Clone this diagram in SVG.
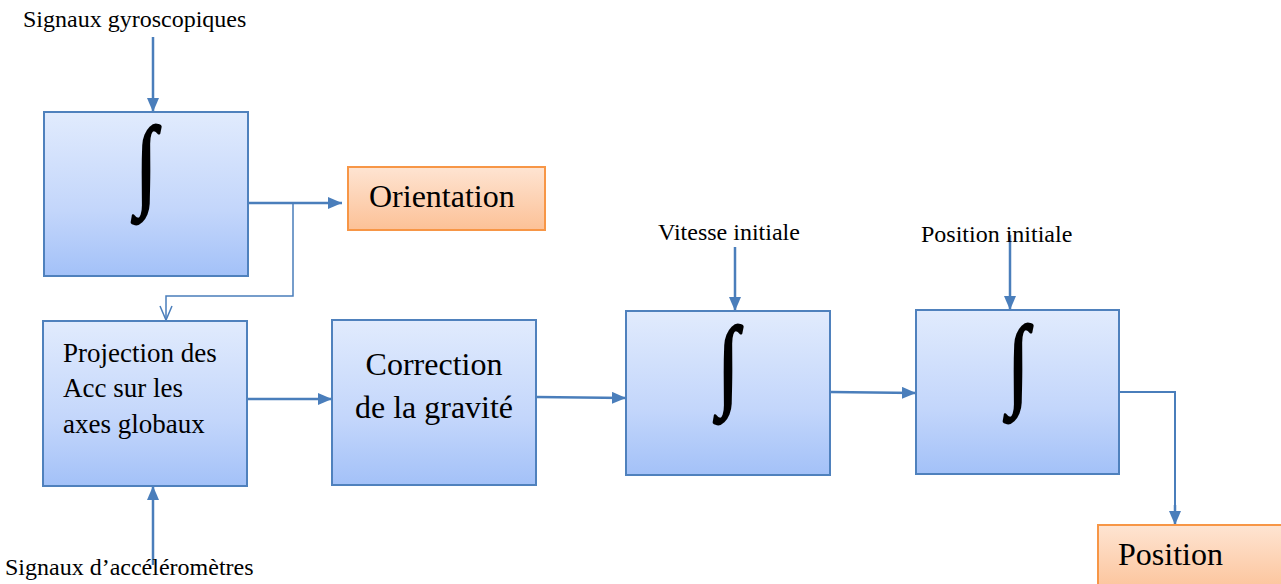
<svg xmlns="http://www.w3.org/2000/svg" width="1281" height="584" viewBox="0 0 1281 584">
<defs>
<linearGradient id="gBlue" x1="0" y1="0" x2="0" y2="1">
<stop offset="0" stop-color="#e1ebfd"/>
<stop offset="0.6" stop-color="#c3d6fb"/>
<stop offset="1" stop-color="#a3c1f8"/>
</linearGradient>
<linearGradient id="gOrange" x1="0" y1="0" x2="0" y2="1">
<stop offset="0" stop-color="#fee4d2"/>
<stop offset="1" stop-color="#fcc197"/>
</linearGradient>
<marker id="arr" viewBox="0 0 14 12" refX="14" refY="6" markerWidth="14" markerHeight="12" markerUnits="userSpaceOnUse" orient="auto">
<path d="M0,0 L14,6 L0,12 z" fill="#4a7ebb"/>
</marker>
</defs>
<style>
.box{fill:url(#gBlue);stroke:#4f81bd;stroke-width:2}
.obox{fill:url(#gOrange);stroke:#f79646;stroke-width:2}
.t{font-family:"Liberation Serif","Times New Roman",serif;fill:#000}
.s{font-size:24px}
.m{font-size:27px}
.b{font-size:32px}
.int{font-family:"Liberation Serif","Times New Roman",serif;font-size:110px;text-anchor:middle;fill:#000;stroke:#000;stroke-width:2.8;stroke-linejoin:round}
.c{fill:none;stroke:#4a7ebb;stroke-width:2.5}
.thin{fill:none;stroke:#4a7ebb;stroke-width:1.5}
</style>

<g id="connectors">
<path class="c" d="M153,37 V112" marker-end="url(#arr)"/>
<path class="c" d="M248,203 H342" marker-end="url(#arr)"/>
<path class="thin" d="M293,203 V296 H166 V320"/>
<path class="thin" d="M160,306 L166,320 L172,306"/>
<path class="c" d="M153,565 V486" marker-end="url(#arr)"/>
<path class="c" d="M247,399 H332" marker-end="url(#arr)"/>
<path class="c" d="M536,397 L626,398" marker-end="url(#arr)"/>
<path class="c" d="M735,247 V311" marker-end="url(#arr)"/>
<path class="c" d="M830,392 L916,393" marker-end="url(#arr)"/>
<path class="c" d="M1010,235 V310" marker-end="url(#arr)"/>
<path class="thin" d="M1119,392 H1175 V512" style="stroke-width:2"/>
<path class="c" d="M1175,505 V525" marker-end="url(#arr)"/>
</g>

<g id="label-gyro"><text class="t s" x="23" y="27">Signaux gyroscopiques</text></g>

<g id="integ1">
<rect class="box" x="44" y="112" width="204" height="164"/>
<text class="int" transform="translate(146,197) scale(0.7,0.92)" x="0" y="0">∫</text>
</g>

<g id="orientation">
<rect class="obox" x="348" y="167" width="197" height="63"/>
<text class="t b" x="369" y="207">Orientation</text>
</g>

<g id="projection">
<rect class="box" x="43" y="321" width="204" height="165"/>
<text class="t m" x="63" y="362">Projection des</text>
<text class="t m" x="63" y="397">Acc sur les</text>
<text class="t m" x="63" y="433">axes globaux</text>
</g>

<g id="label-acc"><text class="t s" x="5" y="575">Signaux d’accéléromètres</text></g>

<g id="correction">
<rect class="box" x="332" y="320" width="204" height="165"/>
<text class="t b" x="434" y="375" text-anchor="middle">Correction</text>
<text class="t b" x="434" y="418" text-anchor="middle">de la gravité</text>
</g>

<g id="label-vitesse"><text class="t s" x="658" y="240">Vitesse initiale</text></g>

<g id="integ2">
<rect class="box" x="626" y="311" width="204" height="164"/>
<text class="int" transform="translate(728,397) scale(0.7,0.92)" x="0" y="0">∫</text>
</g>

<g id="label-posinit"><text class="t s" x="921" y="242">Position initiale</text></g>

<g id="integ3">
<rect class="box" x="916" y="310" width="203" height="164"/>
<text class="int" transform="translate(1018,396) scale(0.7,0.92)" x="0" y="0">∫</text>
</g>

<g id="position">
<rect class="obox" x="1098" y="525" width="190" height="70"/>
<text class="t b" x="1118" y="565">Position</text>
</g>
</svg>
